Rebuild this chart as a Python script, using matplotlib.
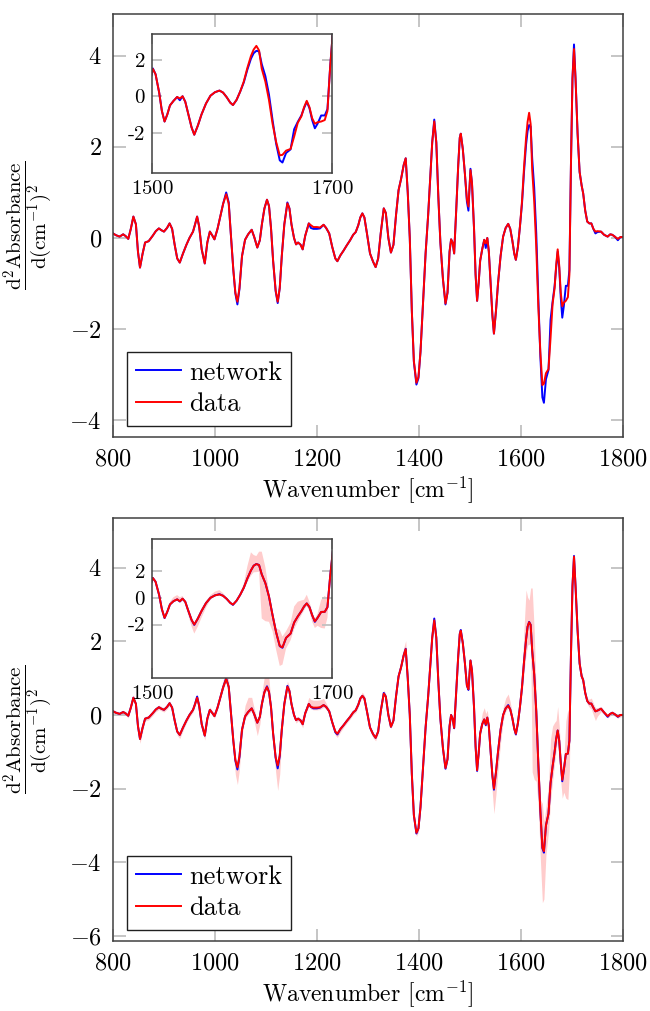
import matplotlib
matplotlib.use("Agg")
import matplotlib.pyplot as plt
import numpy as np

plt.rcParams['font.family'] = 'cmr10'
plt.rcParams['mathtext.fontset'] = 'cm'
plt.rcParams['axes.formatter.use_mathtext'] = True

# Wavenumbers [cm^-1]
wn = [800, 806, 813, 820, 825, 830, 835, 840, 845, 849,
      853, 858, 863, 870, 878, 884, 890, 895, 900, 906,
      911, 916, 921, 926, 931, 937, 944, 950, 957, 961,
      965, 969, 974, 980, 985, 990, 995, 999, 1005, 1010,
      1016, 1022, 1027, 1031, 1036, 1040, 1044, 1048, 1053, 1059,
      1065, 1072, 1077, 1083, 1088, 1092, 1097, 1102, 1106, 1110,
      1114, 1119, 1123, 1127, 1131, 1136, 1142, 1146, 1150, 1155,
      1159, 1163, 1168, 1172, 1177, 1184, 1188, 1193, 1200, 1206,
      1213, 1218, 1224, 1230, 1236, 1240, 1246, 1252, 1258, 1265,
      1271, 1276, 1281, 1285, 1289, 1293, 1298, 1304, 1310, 1315,
      1320, 1325, 1331, 1335, 1340, 1345, 1350, 1355, 1360, 1365,
      1370, 1374, 1378, 1382, 1386, 1390, 1395, 1399, 1403, 1408,
      1413, 1418, 1422, 1426, 1430, 1434, 1438, 1442, 1447, 1452,
      1456, 1460, 1463, 1466, 1469, 1473, 1477, 1480, 1482, 1486,
      1490, 1494, 1497, 1501, 1504, 1508, 1511, 1514, 1517, 1520,
      1524, 1528, 1531, 1534, 1537, 1540, 1544, 1547, 1551, 1555,
      1560, 1565, 1570, 1575, 1579, 1583, 1587, 1590, 1594, 1598,
      1602, 1606, 1610, 1613, 1616, 1619, 1622, 1626, 1630, 1634,
      1638, 1642, 1645, 1649, 1654, 1658, 1662, 1666, 1669, 1672,
      1675, 1678, 1681, 1684, 1688, 1692, 1695, 1698, 1701, 1704,
      1707, 1711, 1715, 1719, 1722, 1726, 1730, 1734, 1738, 1742,
      1746, 1750, 1757, 1763, 1770, 1775, 1779, 1784, 1790, 1795,
      1800]

# top panel: measured spectrum (red)
top_data = [0.10, 0.06, 0.03, 0.08, 0.04, -0.02, 0.20, 0.47, 0.30, -0.30,
            -0.65, -0.35, -0.10, -0.07, 0.05, 0.15, 0.21, 0.17, 0.14, 0.22,
            0.32, 0.20, -0.15, -0.45, -0.54, -0.35, -0.15, 0.00, 0.14, 0.30,
            0.47, 0.25, -0.25, -0.56, -0.10, 0.14, 0.05, -0.03, 0.20, 0.45,
            0.75, 0.96, 0.75, 0.10, -0.70, -1.20, -1.40, -1.10, -0.40, -0.04,
            0.08, 0.18, 0.02, -0.21, -0.05, 0.30, 0.65, 0.84, 0.70, 0.20,
            -0.50, -1.15, -1.40, -1.10, -0.40, 0.30, 0.76, 0.65, 0.30, 0.00,
            -0.14, -0.10, -0.15, -0.25, 0.05, 0.32, 0.28, 0.24, 0.24, 0.23,
            0.29, 0.22, 0.10, -0.20, -0.45, -0.51, -0.38, -0.28, -0.17, -0.05,
            0.07, 0.13, 0.28, 0.45, 0.54, 0.45, 0.10, -0.34, -0.52, -0.64,
            -0.45, 0.10, 0.65, 0.55, 0.00, -0.32, -0.15, 0.50, 1.05, 1.30,
            1.60, 1.75, 1.00, 0.00, -1.60, -2.70, -3.18, -3.05, -2.50, -1.40,
            -0.34, 0.50, 1.30, 2.10, 2.56, 2.10, 0.90, -0.10, -0.90, -1.44,
            -1.20, -0.30, -0.03, -0.10, -0.34, 0.60, 1.60, 2.20, 2.29, 1.95,
            1.42, 0.85, 0.69, 1.49, 1.20, 0.20, -0.80, -1.38, -1.00, -0.50,
            -0.25, -0.04, -0.12, 0.00, -0.30, -0.90, -1.70, -2.10, -1.60, -1.00,
            -0.40, 0.03, 0.22, 0.31, 0.20, -0.05, -0.35, -0.48, -0.20, 0.25,
            0.80, 1.55, 2.20, 2.55, 2.75, 2.50, 1.50, 0.80, -0.20, -1.50,
            -2.50, -3.23, -3.20, -2.97, -2.88, -2.20, -1.45, -1.10, -0.60, -0.25,
            -0.60, -1.20, -1.50, -1.42, -1.38, -1.30, -0.80, 1.60, 3.50, 4.15,
            3.50, 2.30, 1.45, 1.15, 0.98, 0.60, 0.36, 0.32, 0.32, 0.20,
            0.14, 0.15, 0.14, 0.07, 0.03, 0.08, 0.07, 0.03, -0.02, 0.02,
            0.02]

# top panel: network prediction (blue)
top_net = [0.10, 0.06, 0.03, 0.08, 0.04, -0.02, 0.20, 0.47, 0.30, -0.30,
           -0.65, -0.35, -0.10, -0.07, 0.05, 0.15, 0.21, 0.17, 0.14, 0.22,
           0.32, 0.20, -0.15, -0.45, -0.54, -0.35, -0.15, 0.00, 0.14, 0.30,
           0.47, 0.25, -0.25, -0.56, -0.10, 0.14, 0.05, -0.03, 0.20, 0.45,
           0.75, 1.00, 0.78, 0.10, -0.70, -1.22, -1.46, -1.12, -0.40, -0.04,
           0.08, 0.18, 0.02, -0.21, -0.05, 0.30, 0.65, 0.84, 0.70, 0.20,
           -0.50, -1.17, -1.43, -1.10, -0.40, 0.30, 0.78, 0.65, 0.30, 0.00,
           -0.14, -0.10, -0.15, -0.25, 0.05, 0.32, 0.22, 0.20, 0.20, 0.21,
           0.29, 0.22, 0.10, -0.20, -0.45, -0.51, -0.38, -0.28, -0.17, -0.05,
           0.07, 0.13, 0.28, 0.45, 0.54, 0.45, 0.10, -0.34, -0.52, -0.64,
           -0.45, 0.10, 0.65, 0.55, 0.00, -0.32, -0.15, 0.50, 1.05, 1.30,
           1.60, 1.75, 1.00, 0.00, -1.60, -2.72, -3.22, -3.08, -2.50, -1.40,
           -0.34, 0.50, 1.30, 2.10, 2.60, 2.10, 0.90, -0.10, -0.90, -1.46,
           -1.20, -0.30, -0.03, -0.10, -0.34, 0.60, 1.60, 2.20, 2.29, 1.95,
           1.42, 0.80, 0.60, 1.52, 1.20, 0.20, -0.80, -1.38, -1.00, -0.50,
           -0.25, -0.04, -0.22, 0.00, -0.30, -0.90, -1.70, -2.10, -1.60, -1.00,
           -0.40, 0.03, 0.22, 0.31, 0.20, -0.05, -0.35, -0.48, -0.20, 0.25,
           0.75, 1.45, 2.05, 2.35, 2.48, 2.45, 1.75, 1.10, 0.10, -1.30,
           -2.60, -3.50, -3.62, -3.10, -2.90, -1.80, -1.40, -1.05, -0.65, -0.30,
           -0.65, -1.30, -1.75, -1.50, -1.05, -1.05, -0.70, 1.60, 3.50, 4.25,
           3.50, 2.30, 1.45, 1.15, 0.98, 0.60, 0.36, 0.32, 0.32, 0.20,
           0.10, 0.13, 0.14, 0.07, 0.03, 0.08, 0.07, 0.03, -0.05, 0.02,
           0.02]

# bottom panel: data (red) and network mean (blue)
bot_data = [0.10, 0.06, 0.03, 0.08, 0.04, -0.02, 0.20, 0.47, 0.30, -0.30,
            -0.65, -0.35, -0.10, -0.07, 0.05, 0.15, 0.21, 0.17, 0.14, 0.22,
            0.32, 0.20, -0.15, -0.45, -0.54, -0.35, -0.15, 0.00, 0.14, 0.30,
            0.47, 0.25, -0.25, -0.56, -0.10, 0.14, 0.05, -0.03, 0.20, 0.45,
            0.75, 0.98, 0.76, 0.10, -0.70, -1.22, -1.42, -1.12, -0.40, -0.04,
            0.08, 0.18, 0.02, -0.21, -0.05, 0.30, 0.62, 0.76, 0.62, 0.20,
            -0.50, -1.15, -1.37, -1.10, -0.40, 0.30, 0.77, 0.65, 0.30, 0.00,
            -0.14, -0.10, -0.15, -0.25, 0.05, 0.30, 0.22, 0.20, 0.20, 0.21,
            0.27, 0.22, 0.10, -0.20, -0.45, -0.51, -0.38, -0.28, -0.17, -0.05,
            0.07, 0.13, 0.28, 0.45, 0.52, 0.45, 0.10, -0.34, -0.52, -0.62,
            -0.45, 0.10, 0.58, 0.50, 0.00, -0.32, -0.15, 0.50, 1.05, 1.30,
            1.62, 1.79, 1.00, 0.00, -1.60, -2.72, -3.20, -3.08, -2.50, -1.40,
            -0.34, 0.50, 1.30, 2.10, 2.57, 2.10, 0.90, -0.10, -0.90, -1.44,
            -1.20, -0.30, 0.00, -0.10, -0.35, 0.60, 1.60, 2.20, 2.29, 1.95,
            1.42, 0.80, 0.70, 1.48, 1.20, 0.20, -0.85, -1.50, -1.05, -0.50,
            -0.25, -0.12, -0.26, -0.07, -0.30, -0.90, -1.65, -2.00, -1.55, -1.00,
            -0.40, 0.00, 0.18, 0.25, 0.15, -0.08, -0.38, -0.51, -0.22, 0.22,
            0.75, 1.45, 2.05, 2.40, 2.52, 2.45, 1.75, 1.10, 0.10, -1.30,
            -2.60, -3.60, -3.70, -3.00, -2.68, -1.85, -1.40, -1.00, -0.65, -0.42,
            -0.70, -1.30, -1.76, -1.50, -1.06, -1.05, -0.70, 1.60, 3.50, 4.30,
            3.50, 2.30, 1.40, 1.05, 0.95, 0.60, 0.38, 0.31, 0.31, 0.20,
            0.10, 0.12, 0.17, 0.07, -0.03, 0.03, 0.06, 0.02, -0.04, 0.00,
            0.00]

bot_net = [0.10, 0.06, 0.03, 0.08, 0.04, -0.02, 0.20, 0.47, 0.30, -0.30,
           -0.65, -0.35, -0.10, -0.07, 0.05, 0.15, 0.21, 0.17, 0.14, 0.22,
           0.32, 0.20, -0.15, -0.45, -0.54, -0.35, -0.15, 0.00, 0.14, 0.30,
           0.50, 0.25, -0.25, -0.56, -0.10, 0.14, 0.05, -0.03, 0.20, 0.45,
           0.75, 1.00, 0.76, 0.10, -0.70, -1.24, -1.48, -1.14, -0.40, -0.04,
           0.08, 0.18, 0.02, -0.21, -0.05, 0.30, 0.62, 0.78, 0.62, 0.20,
           -0.50, -1.17, -1.45, -1.12, -0.40, 0.30, 0.79, 0.65, 0.30, 0.00,
           -0.14, -0.10, -0.15, -0.25, 0.05, 0.30, 0.22, 0.18, 0.18, 0.20,
           0.27, 0.22, 0.10, -0.20, -0.47, -0.53, -0.38, -0.28, -0.17, -0.05,
           0.07, 0.13, 0.28, 0.45, 0.52, 0.45, 0.10, -0.34, -0.52, -0.62,
           -0.45, 0.10, 0.60, 0.50, 0.00, -0.32, -0.15, 0.50, 1.05, 1.30,
           1.62, 1.80, 1.00, 0.00, -1.60, -2.72, -3.22, -3.08, -2.50, -1.40,
           -0.34, 0.50, 1.30, 2.10, 2.62, 2.10, 0.90, -0.10, -0.90, -1.46,
           -1.20, -0.30, 0.00, -0.10, -0.36, 0.60, 1.60, 2.20, 2.31, 1.95,
           1.42, 0.80, 0.68, 1.48, 1.20, 0.20, -0.85, -1.52, -1.05, -0.50,
           -0.25, -0.12, -0.28, -0.07, -0.30, -0.90, -1.65, -2.03, -1.55, -1.00,
           -0.40, 0.00, 0.18, 0.27, 0.15, -0.08, -0.38, -0.53, -0.22, 0.22,
           0.75, 1.45, 2.05, 2.40, 2.53, 2.45, 1.75, 1.10, 0.10, -1.30,
           -2.60, -3.62, -3.74, -3.00, -2.68, -1.85, -1.40, -1.00, -0.65, -0.42,
           -0.70, -1.30, -1.80, -1.50, -1.06, -1.05, -0.70, 1.60, 3.50, 4.32,
           3.50, 2.30, 1.40, 1.05, 0.95, 0.60, 0.38, 0.31, 0.31, 0.20,
           0.10, 0.12, 0.17, 0.07, -0.05, 0.03, 0.06, 0.02, -0.05, 0.00,
           0.00]

# spread of the network ensemble (above / below the data line)
err_hi = [0.05, 0.05, 0.05, 0.05, 0.05, 0.05, 0.06, 0.08, 0.06, 0.05,
          0.05, 0.05, 0.06, 0.06, 0.06, 0.06, 0.06, 0.06, 0.06, 0.06,
          0.06, 0.05, 0.05, 0.05, 0.05, 0.05, 0.06, 0.08, 0.08, 0.10,
          0.10, 0.06, 0.05, 0.05, 0.08, 0.08, 0.06, 0.06, 0.10, 0.15,
          0.20, 0.22, 0.18, 0.08, 0.05, 0.05, 0.05, 0.05, 0.10, 0.30,
          0.40, 0.30, 0.15, 0.06, 0.15, 0.30, 0.45, 0.50, 0.35, 0.10,
          0.05, 0.05, 0.05, 0.05, 0.08, 0.12, 0.15, 0.12, 0.08, 0.06,
          0.06, 0.06, 0.06, 0.06, 0.10, 0.18, 0.20, 0.20, 0.20, 0.20,
          0.18, 0.10, 0.06, 0.05, 0.05, 0.06, 0.06, 0.06, 0.06, 0.06,
          0.06, 0.06, 0.06, 0.08, 0.10, 0.08, 0.06, 0.05, 0.05, 0.05,
          0.05, 0.06, 0.10, 0.08, 0.05, 0.05, 0.06, 0.10, 0.15, 0.18,
          0.20, 0.23, 0.15, 0.06, 0.05, 0.05, 0.05, 0.05, 0.05, 0.05,
          0.05, 0.06, 0.08, 0.10, 0.12, 0.10, 0.06, 0.05, 0.05, 0.05,
          0.05, 0.05, 0.05, 0.05, 0.05, 0.06, 0.06, 0.06, 0.06, 0.06,
          0.06, 0.06, 0.06, 0.06, 0.06, 0.05, 0.05, 0.05, 0.10, 0.20,
          0.30, 0.32, 0.30, 0.20, 0.10, 0.05, 0.05, 0.05, 0.20, 0.20,
          0.15, 0.20, 0.28, 0.32, 0.20, 0.10, 0.06, 0.06, 0.06, 0.15,
          0.30, 0.90, 1.35, 0.80, 0.60, 1.00, 1.70, 1.20, 0.40, 0.30,
          0.30, 1.20, 0.80, 0.50, 0.80, 1.20, 1.10, 0.80, 0.50, 0.65,
          0.40, 0.30, 0.20, 0.30, 0.90, 1.20, 0.60, 0.30, 0.10, 0.10,
          0.10, 0.10, 0.10, 0.10, 0.08, 0.08, 0.08, 0.12, 0.15, 0.12,
          0.10, 0.08, 0.06, 0.05, 0.05, 0.05, 0.05, 0.05, 0.05, 0.05,
          0.05]

err_lo = [0.05, 0.05, 0.05, 0.05, 0.05, 0.06, 0.05, 0.05, 0.08, 0.10,
          0.12, 0.10, 0.06, 0.06, 0.06, 0.06, 0.06, 0.06, 0.06, 0.06,
          0.06, 0.08, 0.10, 0.10, 0.10, 0.08, 0.06, 0.06, 0.06, 0.06,
          0.06, 0.08, 0.10, 0.12, 0.08, 0.06, 0.06, 0.06, 0.06, 0.06,
          0.06, 0.08, 0.10, 0.15, 0.30, 0.40, 0.47, 0.35, 0.15, 0.06,
          0.06, 0.06, 0.20, 0.35, 0.20, 0.08, 0.06, 0.06, 0.10, 0.15,
          0.20, 0.40, 0.68, 0.50, 0.20, 0.08, 0.06, 0.06, 0.06, 0.06,
          0.08, 0.06, 0.08, 0.10, 0.06, 0.06, 0.06, 0.06, 0.06, 0.06,
          0.06, 0.06, 0.06, 0.08, 0.10, 0.10, 0.08, 0.06, 0.06, 0.06,
          0.06, 0.06, 0.06, 0.06, 0.06, 0.06, 0.08, 0.10, 0.10, 0.08,
          0.06, 0.05, 0.05, 0.06, 0.05, 0.05, 0.05, 0.05, 0.05, 0.05,
          0.05, 0.05, 0.05, 0.05, 0.06, 0.08, 0.10, 0.10, 0.08, 0.06,
          0.05, 0.05, 0.05, 0.05, 0.05, 0.05, 0.05, 0.05, 0.06, 0.06,
          0.06, 0.06, 0.05, 0.05, 0.06, 0.05, 0.05, 0.05, 0.05, 0.05,
          0.05, 0.05, 0.05, 0.05, 0.05, 0.06, 0.08, 0.10, 0.08, 0.06,
          0.05, 0.05, 0.05, 0.05, 0.10, 0.30, 0.50, 0.68, 0.60, 0.50,
          0.35, 0.15, 0.08, 0.06, 0.06, 0.06, 0.06, 0.06, 0.06, 0.10,
          0.20, 0.30, 0.40, 0.50, 0.60, 0.50, 3.30, 2.85, 1.90, 1.20,
          1.30, 1.50, 1.30, 0.80, 0.50, 0.50, 0.40, 0.30, 0.30, 0.20,
          0.30, 0.50, 0.50, 0.60, 1.20, 1.25, 0.80, 0.30, 0.10, 0.10,
          0.10, 0.10, 0.10, 0.10, 0.08, 0.08, 0.08, 0.10, 0.15, 0.20,
          0.25, 0.15, 0.08, 0.06, 0.05, 0.05, 0.05, 0.05, 0.05, 0.05,
          0.05]

frame_col = '#404040'
tick_col = '#c0c0c0'


def style_axes(ax, size, length, pad):
    for s in ax.spines.values():
        s.set_color(frame_col)
        s.set_linewidth(1.1)
    ax.tick_params(direction='in', length=length, width=1.3, color=tick_col,
                   top=True, right=True, labelsize=size, pad=pad)


def draw_panel(rect, inset_rect, red, blue, ylim, yticks, inset_ylim, band=None):
    ax = fig.add_axes(rect)
    ins = fig.add_axes(inset_rect)
    for a in (ax, ins):
        if band is not None:
            a.fill_between(wn, band[0], band[1], color='#ffcccc', lw=0)
        a.plot(wn, blue, color='blue', lw=1.4, label='network')
        a.plot(wn, red, color='red', lw=1.4, label='data')

    ax.set_xlim(800, 1800)
    ax.set_ylim(*ylim)
    ax.set_xticks([800, 1000, 1200, 1400, 1600, 1800])
    ax.set_yticks(yticks)
    style_axes(ax, 17.5, 9, 8)
    ax.set_xlabel(r'Wavenumber [cm$^{-1}$]', fontsize=17)
    ax.xaxis.set_label_coords(0.5, -0.088)
    ax.set_ylabel(r'$\dfrac{\mathrm{d}^2\mathrm{Absorbance}}{\mathrm{d}(\mathrm{cm}^{-1})^2}$',
                  fontsize=15)
    ax.yaxis.set_label_coords(-0.115, 0.5)
    leg = ax.legend(loc='lower left', bbox_to_anchor=(0.027, 0.027), borderaxespad=0,
                    fontsize=19, fancybox=False, framealpha=1, edgecolor='#202020',
                    handlelength=1.7, handletextpad=0.3, labelspacing=0.3, borderpad=0.35)
    leg.get_frame().set_linewidth(1.0)

    ins.set_xlim(1500, 1700)
    ins.set_ylim(*inset_ylim)
    ins.set_xticks([1500, 1700])
    ins.set_yticks([-2, 0, 2])
    ins.set_yticklabels(['-2', '0', '2'])
    style_axes(ins, 15, 7, 5)
    return ax


fig = plt.figure(figsize=(6.5, 10.11), dpi=100)

draw_panel([0.1738, 0.5678, 0.7846, 0.4184], [0.2338, 0.8289, 0.2769, 0.1375],
           top_data, top_net, (-4.37, 4.92), [-4, -2, 0, 2, 4], (-4.19, 3.4))

band_lo = np.array(bot_data) - np.array(err_lo)
band_hi = np.array(bot_data) + np.array(err_hi)
draw_panel([0.1738, 0.0692, 0.7846, 0.4184], [0.2338, 0.3294, 0.2769, 0.1375],
           bot_data, bot_net, (-6.14, 5.35), [-6, -4, -2, 0, 2, 4], (-6.0, 4.4),
           band=(band_lo, band_hi))

fig.savefig('out.png', dpi=100)
